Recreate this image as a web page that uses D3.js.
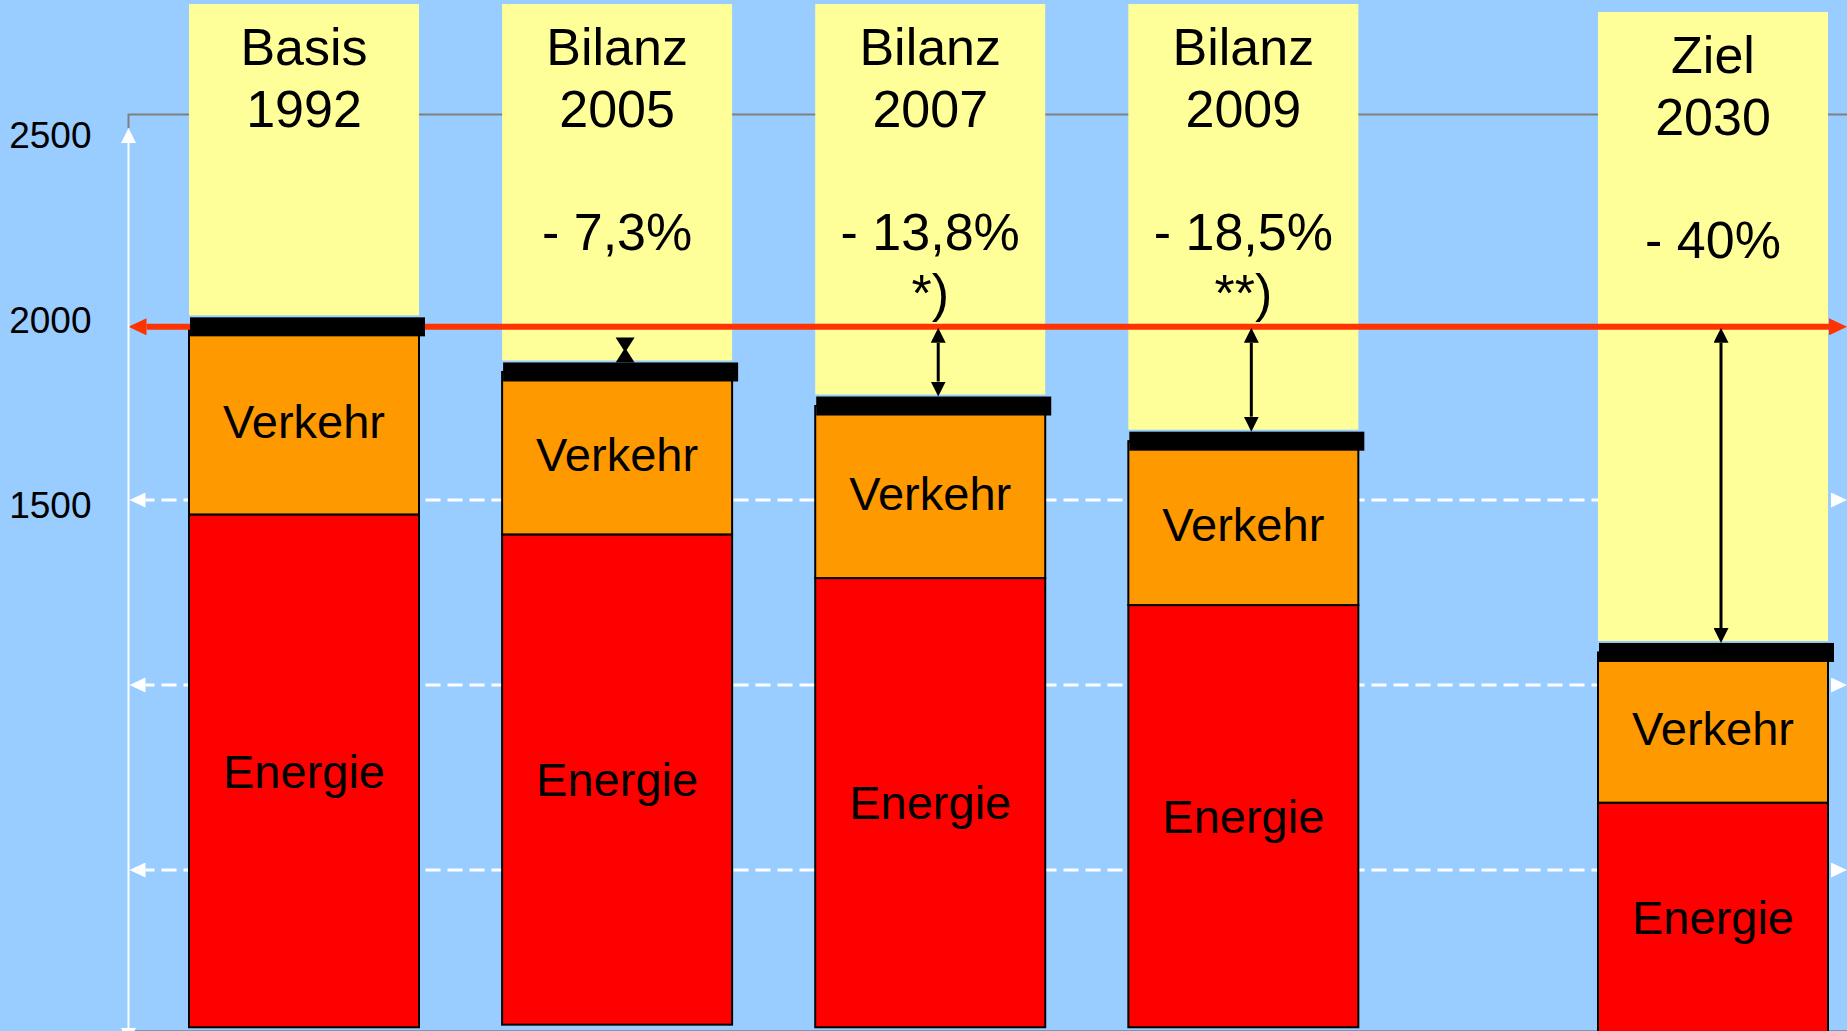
<!DOCTYPE html>
<html>
<head>
<meta charset="utf-8">
<script src="https://cdn.jsdelivr.net/npm/d3@7"></script>
<style>
  html, body { margin: 0; padding: 0; background: #99ccff; overflow: hidden; }
  svg { display: block; font-family: "Liberation Sans", Arial, sans-serif; }
</style>
</head>
<body>
<div id="chart"></div>
<script>
// columns and their header texts
var categories = ["Basis 1992", "Bilanz 2005", "Bilanz 2007", "Bilanz 2009", "Ziel 2030"];
var headTop = ["Basis", "Bilanz", "Bilanz", "Bilanz", "Ziel"];
var headYear = ["1992", "2005", "2007", "2009", "2030"];
var changeText = ["", "- 7,3%", "- 13,8%", "- 18,5%", "- 40%"];
var footnote = ["", "", "*)", "**)", ""];

// stacked values
var energie = [1461, 1407, 1289, 1216, 682];
var verkehr = [507, 439, 465, 443, 406];
var barFloor = [75, 82, 75, 75, 0];

// slot of each column, the target column stands apart
var slots = [0, 1, 2, 3, 4.5];

var yTicks = [2500, 2000, 1500];
var gridValues = [1500, 1000, 500];

// size of the slide
var width = 1847, height = 1031;
var axisX = 128.5;
var barWidth = 230;

var y = d3.scaleLinear().domain([0, 2500]).range([1055, 130]);
var x = d3.scaleLinear().domain([0, 4.5]).range([304, 1713]);

var rows = categories.map(function (c, i) {
    return {
        name: c,
        top: headTop[i],
        year: headYear[i],
        change: changeText[i],
        note: footnote[i],
        energie: energie[i],
        total: energie[i] + verkehr[i],
        floor: barFloor[i],
        cx: x(slots[i]),
        target: c.indexOf("Ziel") === 0
    };
});
var reference = rows[0].total;

var svg = d3.select("#chart")
    .append("svg")
    .attr("width", width)
    .attr("height", height);

var defs = svg.append("defs");

// arrow heads, placed outside the line end (refX 0)
function marker(id, color, len, wid) {
    defs.append("marker")
        .attr("id", id)
        .attr("viewBox", "0 0 " + len + " " + wid)
        .attr("refX", 0)
        .attr("refY", wid / 2)
        .attr("markerWidth", len)
        .attr("markerHeight", wid)
        .attr("markerUnits", "userSpaceOnUse")
        .attr("orient", "auto-start-reverse")
        .append("path")
        .attr("d", "M0,0L" + len + "," + (wid / 2) + "L0," + wid + "Z")
        .attr("fill", color);
}
marker("arrRed", "#ff3300", 18, 17);
marker("arrWhite", "#ffffff", 16, 15);
marker("arrAxis", "#ffffff", 15, 15);
marker("arrBlack", "#000000", 15, 15);

svg.append("rect")
    .attr("width", width)
    .attr("height", height)
    .attr("fill", "#99ccff");

// frame lines
svg.append("path")
    .attr("d", "M" + axisX + "," + (y(2500) - 2) + "V" + (y(2500) - 15.5) + "H" + width)
    .attr("fill", "none")
    .attr("stroke", "#808080")
    .attr("stroke-width", 2);
svg.append("line")
    .attr("x1", axisX).attr("x2", width)
    .attr("y1", height - 0.5).attr("y2", height - 0.5)
    .attr("stroke", "#8096b0")
    .attr("stroke-width", 1);

// dashed grid lines with arrow heads
svg.selectAll(".grid")
    .data(gridValues)
    .enter()
    .append("line")
    .attr("class", "grid")
    .attr("x1", axisX + 17).attr("x2", width - 16)
    .attr("y1", function (d) { return y(d); })
    .attr("y2", function (d) { return y(d); })
    .attr("stroke", "#ffffff")
    .attr("stroke-width", 3)
    .attr("stroke-dasharray", "15,7")
    .attr("stroke-dashoffset", 6)
    .attr("marker-start", "url(#arrWhite)")
    .attr("marker-end", "url(#arrWhite)");

// yellow header boxes
svg.selectAll(".head")
    .data(rows)
    .enter()
    .append("rect")
    .attr("class", "head")
    .attr("x", function (d) { return d.cx - barWidth / 2; })
    .attr("y", function (d) { return d.target ? 12 : 4; })
    .attr("width", barWidth)
    .attr("height", function (d) { return y(d.total) - 11.5 - (d.target ? 12 : 4); })
    .attr("fill", "#ffff99");

// Energie segment
svg.selectAll(".energie")
    .data(rows)
    .enter()
    .append("rect")
    .attr("class", "energie")
    .attr("x", function (d) { return d.cx - barWidth / 2; })
    .attr("y", function (d) { return y(d.energie); })
    .attr("width", barWidth)
    .attr("height", function (d) { return y(d.floor) - y(d.energie); })
    .attr("fill", "#ff0000")
    .attr("stroke", "#000")
    .attr("stroke-width", 2);

// Verkehr segment
svg.selectAll(".verkehr")
    .data(rows)
    .enter()
    .append("rect")
    .attr("class", "verkehr")
    .attr("x", function (d) { return d.cx - barWidth / 2; })
    .attr("y", function (d) { return y(d.total); })
    .attr("width", barWidth)
    .attr("height", function (d) { return y(d.energie) - y(d.total); })
    .attr("fill", "#ff9900")
    .attr("stroke", "#000")
    .attr("stroke-width", 2);

// reference line at the 1992 level
svg.append("line")
    .attr("x1", axisX + 18).attr("x2", width - 18)
    .attr("y1", y(reference)).attr("y2", y(reference))
    .attr("stroke", "#ff3300")
    .attr("stroke-width", 6)
    .attr("marker-start", "url(#arrRed)")
    .attr("marker-end", "url(#arrRed)");

// black caps on top of each column
svg.selectAll(".cap")
    .data(rows)
    .enter()
    .append("rect")
    .attr("class", "cap")
    .attr("x", function (d) { return d.cx - barWidth / 2 + 1; })
    .attr("y", function (d) { return y(d.total) - 9.5; })
    .attr("width", barWidth + 5)
    .attr("height", 19)
    .attr("fill", "#000");

// distance arrows between reference line and caps
rows.slice(1).forEach(function (d) {
    var ax = d.cx + 8;
    var top = y(reference) + 1;
    var bottom = y(d.total) - 9.5;
    if (bottom - top < 40) {
        // too short: heads meet in an hourglass
        var t = bottom - 25, m = bottom - 12.5;
        svg.append("path")
            .attr("d", "M" + (ax - 9.5) + "," + t + "L" + (ax + 9.5) + "," + t + "L" + (ax + 1.5) + "," + m + "L" + (ax - 1.5) + "," + m + "Z" +
                "M" + (ax - 9.5) + "," + bottom + "L" + (ax + 9.5) + "," + bottom + "L" + (ax + 1.5) + "," + m + "L" + (ax - 1.5) + "," + m + "Z")
            .attr("fill", "#000");
    } else {
        svg.append("line")
            .attr("x1", ax).attr("x2", ax)
            .attr("y1", top + 15).attr("y2", bottom - 15)
            .attr("stroke", "#000")
            .attr("stroke-width", 3)
            .attr("marker-start", "url(#arrBlack)")
            .attr("marker-end", "url(#arrBlack)");
    }
});

// y axis
svg.append("line")
    .attr("x1", axisX).attr("x2", axisX)
    .attr("y1", y(2500) + 13).attr("y2", height - 3)
    .attr("stroke", "#ffffff")
    .attr("stroke-width", 2)
    .attr("marker-start", "url(#arrAxis)")
    .attr("marker-end", "url(#arrAxis)");

svg.append("g")
    .attr("transform", "translate(" + axisX + ",0)")
    .call(d3.axisLeft(y).tickValues(yTicks).tickFormat(d3.format("d")).tickSize(0).tickPadding(37))
    .call(function (g) { g.select(".domain").remove(); })
    .selectAll("text")
    .attr("font-size", 37)
    .attr("font-family", "'Liberation Sans', Arial, sans-serif")
    .attr("fill", "#000")
    .attr("dy", "0.47em");

// header texts
var headLines = [["top", 65], ["year", 127], ["change", 250], ["note", 311]];
headLines.forEach(function (h) {
    svg.selectAll(".h-" + h[0])
        .data(rows)
        .enter()
        .append("text")
        .attr("class", "h-" + h[0])
        .attr("x", function (d) { return d.cx; })
        .attr("y", function (d) { return h[1] + (d.target ? 8 : 0); })
        .attr("text-anchor", "middle")
        .attr("font-size", 52)
        .attr("fill", "#000")
        .text(function (d) { return d[h[0]]; });
});

// segment labels
svg.selectAll(".lab-v")
    .data(rows)
    .enter()
    .append("text")
    .attr("x", function (d) { return d.cx; })
    .attr("y", function (d) { return (y(d.total) + y(d.energie)) / 2 + 17.5; })
    .attr("text-anchor", "middle")
    .attr("font-size", 47)
    .attr("fill", "#000")
    .text("Verkehr");

svg.selectAll(".lab-e")
    .data(rows)
    .enter()
    .append("text")
    .attr("x", function (d) { return d.cx; })
    .attr("y", function (d) { return (y(d.energie) + Math.min(y(d.floor), height)) / 2 + 16.7; })
    .attr("text-anchor", "middle")
    .attr("font-size", 47)
    .attr("fill", "#000")
    .text("Energie");
</script>
</body>
</html>
